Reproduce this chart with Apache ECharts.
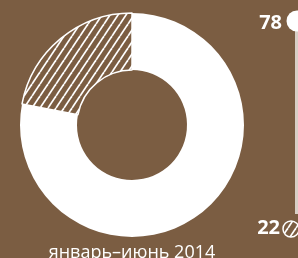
<!DOCTYPE html>
<html><head><meta charset="utf-8">
<script src="https://cdn.jsdelivr.net/npm/echarts@6/dist/echarts.min.js"></script>
<style>html,body{margin:0;padding:0;background:#7B5D42;}#c{width:298px;height:258px;}</style>
</head><body><div id="c"></div>
<script>
var categories = ['main', 'other'];
var values = [78, 22];
var periodLabel = 'январь–июнь 2014';

var BG = '#7B5D42';
function hatch() {
  var w = 8, h = 12;
  var c = document.createElement('canvas');
  c.width = w; c.height = h;
  var x = c.getContext('2d');
  x.fillStyle = BG; x.fillRect(0, 0, w, h);
  x.strokeStyle = '#fff'; x.lineWidth = 1.7;
  [-w, 0, w].forEach(function (o) {
    x.beginPath(); x.moveTo(o, h); x.lineTo(o + w, 0); x.stroke();
  });
  return c;
}
var pat = { image: hatch(), repeat: 'repeat' };

var chart = echarts.init(document.getElementById('c'), null, { renderer: 'canvas' });
chart.setOption({
  backgroundColor: BG,
  animation: false,
  series: [{
    type: 'pie',
    center: [132, 125],
    radius: [55, 112],
    startAngle: 90,
    clockwise: true,
    label: { show: false },
    labelLine: { show: false },
    silent: true,
    data: [
      { name: categories[0], value: values[0], itemStyle: { color: '#ffffff' } },
      { name: categories[1], value: values[1], itemStyle: { color: pat, borderColor: '#ffffff', borderWidth: 1.5 } }
    ]
  }],
  graphic: [
    { type: 'text', x: 132, y: 244, style: { text: periodLabel, fill: '#fff', font: '18px "Open Sans"', textAlign: 'center', textVerticalAlign: 'top' } },
    { type: 'rect', shape: { x: 295, y: 28, width: 3, height: 186 }, style: { fill: '#d8cfc6' } },
    { type: 'circle', shape: { cx: 297, cy: 21, r: 10.5 }, style: { fill: '#fff' } },
    { type: 'circle', shape: { cx: 291, cy: 229, r: 8 }, style: { fill: pat, stroke: '#fff', lineWidth: 1.5 } },
    { type: 'text', x: 282, y: 23, style: { text: String(values[0]), fill: '#fff', font: 'bold 20px "Open Sans"', textAlign: 'right', textVerticalAlign: 'middle' } },
    { type: 'text', x: 280, y: 228, style: { text: String(values[1]), fill: '#fff', font: 'bold 20px "Open Sans"', textAlign: 'right', textVerticalAlign: 'middle' } }
  ]
});
</script></body></html>
